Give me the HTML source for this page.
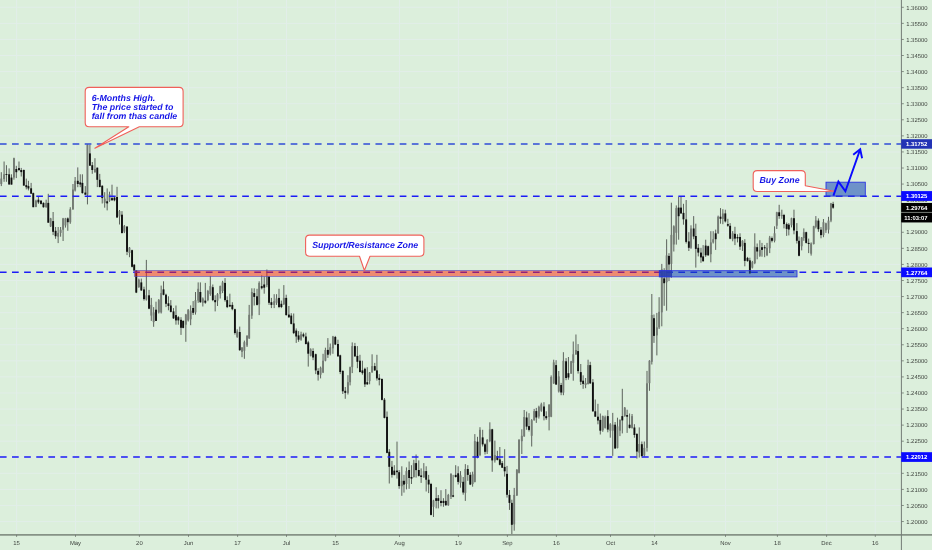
<!DOCTYPE html>
<html lang="en"><head><meta charset="utf-8"><title>GBPUSD chart</title>
<style>html,body{margin:0;padding:0;background:#dcefdc;overflow:hidden}svg{display:block}text{font-family:"Liberation Sans",Arial,sans-serif;text-rendering:geometricPrecision}.pl{font-size:5.9px;fill:#3c413c}.tl{font-size:5.9px;fill:#3c413c;text-anchor:middle}.tg{font-size:5.9px;fill:#fff;font-weight:bold}.co{font-size:8.8px;fill:#1414e6;font-weight:bold;font-style:italic}</style></head><body>
<svg width="932" height="550" viewBox="0 0 932 550">
<rect width="932" height="550" fill="#dcefdc"/>
<g stroke="#e2eee9" stroke-width="1" fill="none">
<line x1="16.6" y1="0" x2="16.6" y2="534.9"/>
<line x1="75.5" y1="0" x2="75.5" y2="534.9"/>
<line x1="139.4" y1="0" x2="139.4" y2="534.9"/>
<line x1="188.5" y1="0" x2="188.5" y2="534.9"/>
<line x1="237.6" y1="0" x2="237.6" y2="534.9"/>
<line x1="286.5" y1="0" x2="286.5" y2="534.9"/>
<line x1="335.6" y1="0" x2="335.6" y2="534.9"/>
<line x1="399.5" y1="0" x2="399.5" y2="534.9"/>
<line x1="458.4" y1="0" x2="458.4" y2="534.9"/>
<line x1="507.4" y1="0" x2="507.4" y2="534.9"/>
<line x1="556.4" y1="0" x2="556.4" y2="534.9"/>
<line x1="610.5" y1="0" x2="610.5" y2="534.9"/>
<line x1="654.6" y1="0" x2="654.6" y2="534.9"/>
<line x1="725.5" y1="0" x2="725.5" y2="534.9"/>
<line x1="777.4" y1="0" x2="777.4" y2="534.9"/>
<line x1="826.6" y1="0" x2="826.6" y2="534.9"/>
<line x1="875.3" y1="0" x2="875.3" y2="534.9"/>
<line x1="0" y1="7.30" x2="901.4" y2="7.30"/>
<line x1="0" y1="23.37" x2="901.4" y2="23.37"/>
<line x1="0" y1="39.44" x2="901.4" y2="39.44"/>
<line x1="0" y1="55.51" x2="901.4" y2="55.51"/>
<line x1="0" y1="71.58" x2="901.4" y2="71.58"/>
<line x1="0" y1="87.65" x2="901.4" y2="87.65"/>
<line x1="0" y1="103.72" x2="901.4" y2="103.72"/>
<line x1="0" y1="119.79" x2="901.4" y2="119.79"/>
<line x1="0" y1="135.86" x2="901.4" y2="135.86"/>
<line x1="0" y1="151.93" x2="901.4" y2="151.93"/>
<line x1="0" y1="168.00" x2="901.4" y2="168.00"/>
<line x1="0" y1="184.07" x2="901.4" y2="184.07"/>
<line x1="0" y1="200.14" x2="901.4" y2="200.14"/>
<line x1="0" y1="216.21" x2="901.4" y2="216.21"/>
<line x1="0" y1="232.28" x2="901.4" y2="232.28"/>
<line x1="0" y1="248.35" x2="901.4" y2="248.35"/>
<line x1="0" y1="264.42" x2="901.4" y2="264.42"/>
<line x1="0" y1="280.49" x2="901.4" y2="280.49"/>
<line x1="0" y1="296.56" x2="901.4" y2="296.56"/>
<line x1="0" y1="312.63" x2="901.4" y2="312.63"/>
<line x1="0" y1="328.70" x2="901.4" y2="328.70"/>
<line x1="0" y1="344.77" x2="901.4" y2="344.77"/>
<line x1="0" y1="360.84" x2="901.4" y2="360.84"/>
<line x1="0" y1="376.91" x2="901.4" y2="376.91"/>
<line x1="0" y1="392.98" x2="901.4" y2="392.98"/>
<line x1="0" y1="409.05" x2="901.4" y2="409.05"/>
<line x1="0" y1="425.12" x2="901.4" y2="425.12"/>
<line x1="0" y1="441.19" x2="901.4" y2="441.19"/>
<line x1="0" y1="457.26" x2="901.4" y2="457.26"/>
<line x1="0" y1="473.33" x2="901.4" y2="473.33"/>
<line x1="0" y1="489.40" x2="901.4" y2="489.40"/>
<line x1="0" y1="505.47" x2="901.4" y2="505.47"/>
<line x1="0" y1="521.54" x2="901.4" y2="521.54"/>
</g>
<g stroke="#5c625c" stroke-width="1" fill="none">
<line x1="1.29" y1="172.2" x2="1.29" y2="186.1"/>
<line x1="4.08" y1="161.5" x2="4.08" y2="181.8"/>
<line x1="6.44" y1="165.2" x2="6.44" y2="181.8"/>
<line x1="9.12" y1="168.4" x2="9.12" y2="184.5"/>
<line x1="11.48" y1="174.3" x2="11.48" y2="184.5"/>
<line x1="13.95" y1="157.7" x2="13.95" y2="179.7"/>
<line x1="16.31" y1="165.8" x2="16.31" y2="178.1"/>
<line x1="18.99" y1="161.5" x2="18.99" y2="171.1"/>
<line x1="21.24" y1="167.9" x2="21.24" y2="176.5"/>
<line x1="23.82" y1="169.5" x2="23.82" y2="185.6"/>
<line x1="26.29" y1="178.6" x2="26.29" y2="189.4"/>
<line x1="28.43" y1="180.8" x2="28.43" y2="190.4"/>
<line x1="31.12" y1="182.9" x2="31.12" y2="193.6"/>
<line x1="33.26" y1="192.6" x2="33.26" y2="207.2"/>
<line x1="35.94" y1="199.7" x2="35.94" y2="207.2"/>
<line x1="38.41" y1="196.4" x2="38.41" y2="203.9"/>
<line x1="40.99" y1="200.2" x2="40.99" y2="204.5"/>
<line x1="43.45" y1="202.3" x2="43.45" y2="207.7"/>
<line x1="46.14" y1="199.7" x2="46.14" y2="207.7"/>
<line x1="48.28" y1="193.8" x2="48.28" y2="222.7"/>
<line x1="50.64" y1="217.9" x2="50.64" y2="227.0"/>
<line x1="53.11" y1="212.0" x2="53.11" y2="235.1"/>
<line x1="55.58" y1="227.0" x2="55.58" y2="238.8"/>
<line x1="58.15" y1="227.0" x2="58.15" y2="243.1"/>
<line x1="60.62" y1="227.0" x2="60.62" y2="236.7"/>
<line x1="63.09" y1="217.9" x2="63.09" y2="241.0"/>
<line x1="65.45" y1="217.9" x2="65.45" y2="227.6"/>
<line x1="67.81" y1="217.4" x2="67.81" y2="230.8"/>
<line x1="70.28" y1="207.2" x2="70.28" y2="223.8"/>
<line x1="72.96" y1="184.0" x2="72.96" y2="209.8"/>
<line x1="75.11" y1="177.0" x2="75.11" y2="191.5"/>
<line x1="77.79" y1="167.4" x2="77.79" y2="187.2"/>
<line x1="80.26" y1="174.3" x2="80.26" y2="187.2"/>
<line x1="82.40" y1="174.3" x2="82.40" y2="193.6"/>
<line x1="85.30" y1="186.1" x2="85.30" y2="194.7"/>
<line x1="87.45" y1="144.3" x2="87.45" y2="204.4"/>
<line x1="89.91" y1="144.8" x2="89.91" y2="165.8"/>
<line x1="92.27" y1="162.0" x2="92.27" y2="173.8"/>
<line x1="94.96" y1="158.2" x2="94.96" y2="172.7"/>
<line x1="97.30" y1="167.5" x2="97.30" y2="187.1"/>
<line x1="99.76" y1="173.9" x2="99.76" y2="187.4"/>
<line x1="102.23" y1="185.2" x2="102.23" y2="203.5"/>
<line x1="104.70" y1="192.2" x2="104.70" y2="207.7"/>
<line x1="107.17" y1="188.4" x2="107.17" y2="210.4"/>
<line x1="109.53" y1="191.7" x2="109.53" y2="201.8"/>
<line x1="112.00" y1="184.7" x2="112.00" y2="200.8"/>
<line x1="114.46" y1="196.5" x2="114.46" y2="201.3"/>
<line x1="117.04" y1="186.8" x2="117.04" y2="217.9"/>
<line x1="119.51" y1="210.0" x2="119.51" y2="224.5"/>
<line x1="121.97" y1="211.1" x2="121.97" y2="233.6"/>
<line x1="124.33" y1="225.0" x2="124.33" y2="233.1"/>
<line x1="127.02" y1="226.1" x2="127.02" y2="255.1"/>
<line x1="129.48" y1="247.0" x2="129.48" y2="257.2"/>
<line x1="132.06" y1="249.7" x2="132.06" y2="267.4"/>
<line x1="134.21" y1="264.2" x2="134.21" y2="271.2"/>
<line x1="136.27" y1="270.0" x2="136.27" y2="293.1"/>
<line x1="138.84" y1="278.6" x2="138.84" y2="287.8"/>
<line x1="141.31" y1="278.6" x2="141.31" y2="291.0"/>
<line x1="143.99" y1="286.7" x2="143.99" y2="300.6"/>
<line x1="146.35" y1="259.9" x2="146.35" y2="300.6"/>
<line x1="149.03" y1="289.9" x2="149.03" y2="309.2"/>
<line x1="151.29" y1="297.9" x2="151.29" y2="320.9"/>
<line x1="153.65" y1="307.1" x2="153.65" y2="326.8"/>
<line x1="156.01" y1="301.7" x2="156.01" y2="320.9"/>
<line x1="158.80" y1="299.0" x2="158.80" y2="313.5"/>
<line x1="161.16" y1="285.6" x2="161.16" y2="313.5"/>
<line x1="163.52" y1="281.3" x2="163.52" y2="295.3"/>
<line x1="165.99" y1="293.7" x2="165.99" y2="307.1"/>
<line x1="168.45" y1="296.3" x2="168.45" y2="310.3"/>
<line x1="170.82" y1="300.1" x2="170.82" y2="312.4"/>
<line x1="173.50" y1="308.1" x2="173.50" y2="318.9"/>
<line x1="175.97" y1="305.5" x2="175.97" y2="324.7"/>
<line x1="178.33" y1="316.1" x2="178.33" y2="324.7"/>
<line x1="181.01" y1="317.2" x2="181.01" y2="334.9"/>
<line x1="183.15" y1="320.4" x2="183.15" y2="328.4"/>
<line x1="185.84" y1="313.9" x2="185.84" y2="341.8"/>
<line x1="188.20" y1="309.1" x2="188.20" y2="321.5"/>
<line x1="190.67" y1="305.4" x2="190.67" y2="325.2"/>
<line x1="193.13" y1="301.1" x2="193.13" y2="315.0"/>
<line x1="195.49" y1="292.0" x2="195.49" y2="314.6"/>
<line x1="198.18" y1="282.4" x2="198.18" y2="302.8"/>
<line x1="200.36" y1="282.4" x2="200.36" y2="302.8"/>
<line x1="202.83" y1="297.4" x2="202.83" y2="306.5"/>
<line x1="205.30" y1="282.9" x2="205.30" y2="303.8"/>
<line x1="207.88" y1="289.9" x2="207.88" y2="301.2"/>
<line x1="210.34" y1="275.9" x2="210.34" y2="295.8"/>
<line x1="212.81" y1="284.5" x2="212.81" y2="301.2"/>
<line x1="215.17" y1="295.3" x2="215.17" y2="311.4"/>
<line x1="217.53" y1="293.1" x2="217.53" y2="306.0"/>
<line x1="220.21" y1="285.6" x2="220.21" y2="298.5"/>
<line x1="222.58" y1="280.8" x2="222.58" y2="293.1"/>
<line x1="225.04" y1="278.1" x2="225.04" y2="301.7"/>
<line x1="227.19" y1="296.3" x2="227.19" y2="308.1"/>
<line x1="229.87" y1="293.7" x2="229.87" y2="307.1"/>
<line x1="232.34" y1="302.2" x2="232.34" y2="310.3"/>
<line x1="234.91" y1="308.7" x2="234.91" y2="334.6"/>
<line x1="237.17" y1="329.3" x2="237.17" y2="337.9"/>
<line x1="239.74" y1="326.6" x2="239.74" y2="350.8"/>
<line x1="242.00" y1="347.0" x2="242.00" y2="357.2"/>
<line x1="244.36" y1="340.6" x2="244.36" y2="358.8"/>
<line x1="247.04" y1="335.2" x2="247.04" y2="347.0"/>
<line x1="249.18" y1="304.9" x2="249.18" y2="338.9"/>
<line x1="251.87" y1="288.3" x2="251.87" y2="318.9"/>
<line x1="254.23" y1="288.3" x2="254.23" y2="305.5"/>
<line x1="257.02" y1="288.8" x2="257.02" y2="305.5"/>
<line x1="259.16" y1="281.3" x2="259.16" y2="315.1"/>
<line x1="261.74" y1="275.4" x2="261.74" y2="289.4"/>
<line x1="264.21" y1="276.5" x2="264.21" y2="293.7"/>
<line x1="266.89" y1="269.5" x2="266.89" y2="287.2"/>
<line x1="269.03" y1="275.9" x2="269.03" y2="304.9"/>
<line x1="271.39" y1="297.9" x2="271.39" y2="308.1"/>
<line x1="274.18" y1="294.2" x2="274.18" y2="308.1"/>
<line x1="276.55" y1="294.2" x2="276.55" y2="304.9"/>
<line x1="279.01" y1="288.8" x2="279.01" y2="308.1"/>
<line x1="281.37" y1="300.6" x2="281.37" y2="308.1"/>
<line x1="283.84" y1="285.1" x2="283.84" y2="304.9"/>
<line x1="286.20" y1="294.7" x2="286.20" y2="315.6"/>
<line x1="288.88" y1="306.0" x2="288.88" y2="317.8"/>
<line x1="291.24" y1="313.2" x2="291.24" y2="324.4"/>
<line x1="293.71" y1="313.5" x2="293.71" y2="334.1"/>
<line x1="296.22" y1="328.4" x2="296.22" y2="342.9"/>
<line x1="298.58" y1="331.1" x2="298.58" y2="341.8"/>
<line x1="301.05" y1="331.7" x2="301.05" y2="340.8"/>
<line x1="303.41" y1="332.7" x2="303.41" y2="337.6"/>
<line x1="305.88" y1="332.7" x2="305.88" y2="344.5"/>
<line x1="308.24" y1="340.8" x2="308.24" y2="366.6"/>
<line x1="310.71" y1="348.3" x2="310.71" y2="356.4"/>
<line x1="313.07" y1="348.3" x2="313.07" y2="360.2"/>
<line x1="315.75" y1="353.6" x2="315.75" y2="374.1"/>
<line x1="318.11" y1="368.2" x2="318.11" y2="380.6"/>
<line x1="320.58" y1="366.6" x2="320.58" y2="378.4"/>
<line x1="323.05" y1="353.8" x2="323.05" y2="373.1"/>
<line x1="325.41" y1="347.7" x2="325.41" y2="361.3"/>
<line x1="327.88" y1="338.1" x2="327.88" y2="357.9"/>
<line x1="330.24" y1="343.5" x2="330.24" y2="355.4"/>
<line x1="332.92" y1="335.9" x2="332.92" y2="353.8"/>
<line x1="335.28" y1="335.9" x2="335.28" y2="345.1"/>
<line x1="337.96" y1="339.7" x2="337.96" y2="356.9"/>
<line x1="340.21" y1="354.7" x2="340.21" y2="374.1"/>
<line x1="342.79" y1="370.4" x2="342.79" y2="394.0"/>
<line x1="345.26" y1="387.0" x2="345.26" y2="398.8"/>
<line x1="347.94" y1="375.2" x2="347.94" y2="394.5"/>
<line x1="350.09" y1="366.6" x2="350.09" y2="385.4"/>
<line x1="352.23" y1="342.4" x2="352.23" y2="373.1"/>
<line x1="354.91" y1="342.9" x2="354.91" y2="357.0"/>
<line x1="357.38" y1="346.1" x2="357.38" y2="368.2"/>
<line x1="359.96" y1="354.8" x2="359.96" y2="372.5"/>
<line x1="362.42" y1="360.7" x2="362.42" y2="374.7"/>
<line x1="364.89" y1="367.7" x2="364.89" y2="387.0"/>
<line x1="367.25" y1="367.2" x2="367.25" y2="384.9"/>
<line x1="369.61" y1="372.0" x2="369.61" y2="384.3"/>
<line x1="372.08" y1="354.3" x2="372.08" y2="372.5"/>
<line x1="374.76" y1="362.9" x2="374.76" y2="370.9"/>
<line x1="376.91" y1="354.8" x2="376.91" y2="380.6"/>
<line x1="379.27" y1="374.1" x2="379.27" y2="385.4"/>
<line x1="381.95" y1="378.4" x2="381.95" y2="400.4"/>
<line x1="384.44" y1="398.0" x2="384.44" y2="418.4"/>
<line x1="387.02" y1="411.5" x2="387.02" y2="453.3"/>
<line x1="389.27" y1="449.1" x2="389.27" y2="483.5"/>
<line x1="391.95" y1="460.9" x2="391.95" y2="477.6"/>
<line x1="394.31" y1="465.2" x2="394.31" y2="475.4"/>
<line x1="397.00" y1="441.6" x2="397.00" y2="478.6"/>
<line x1="399.14" y1="470.0" x2="399.14" y2="488.8"/>
<line x1="401.82" y1="466.3" x2="401.82" y2="495.8"/>
<line x1="403.97" y1="474.9" x2="403.97" y2="492.6"/>
<line x1="406.44" y1="467.4" x2="406.44" y2="489.4"/>
<line x1="409.12" y1="461.5" x2="409.12" y2="488.8"/>
<line x1="411.48" y1="465.2" x2="411.48" y2="484.0"/>
<line x1="413.84" y1="459.8" x2="413.84" y2="477.6"/>
<line x1="416.09" y1="454.5" x2="416.09" y2="477.6"/>
<line x1="418.78" y1="460.4" x2="418.78" y2="476.5"/>
<line x1="421.14" y1="468.4" x2="421.14" y2="482.9"/>
<line x1="423.82" y1="463.1" x2="423.82" y2="477.6"/>
<line x1="426.18" y1="466.3" x2="426.18" y2="491.5"/>
<line x1="428.65" y1="474.9" x2="428.65" y2="493.1"/>
<line x1="431.01" y1="482.9" x2="431.01" y2="515.4"/>
<line x1="433.48" y1="499.8" x2="433.48" y2="517.0"/>
<line x1="436.16" y1="487.2" x2="436.16" y2="508.4"/>
<line x1="438.30" y1="495.0" x2="438.30" y2="508.4"/>
<line x1="440.99" y1="490.2" x2="440.99" y2="506.3"/>
<line x1="443.45" y1="498.2" x2="443.45" y2="506.8"/>
<line x1="445.82" y1="489.1" x2="445.82" y2="505.8"/>
<line x1="448.28" y1="493.9" x2="448.28" y2="505.8"/>
<line x1="450.97" y1="473.3" x2="450.97" y2="499.0"/>
<line x1="453.11" y1="474.9" x2="453.11" y2="497.2"/>
<line x1="455.69" y1="465.2" x2="455.69" y2="477.6"/>
<line x1="458.15" y1="466.3" x2="458.15" y2="484.5"/>
<line x1="460.52" y1="471.1" x2="460.52" y2="487.7"/>
<line x1="463.20" y1="477.0" x2="463.20" y2="494.7"/>
<line x1="465.34" y1="464.1" x2="465.34" y2="500.9"/>
<line x1="467.81" y1="465.2" x2="467.81" y2="480.8"/>
<line x1="470.28" y1="472.2" x2="470.28" y2="485.1"/>
<line x1="472.64" y1="471.7" x2="472.64" y2="486.7"/>
<line x1="474.83" y1="434.1" x2="474.83" y2="482.4"/>
<line x1="477.51" y1="436.8" x2="477.51" y2="458.3"/>
<line x1="479.98" y1="427.2" x2="479.98" y2="456.1"/>
<line x1="482.66" y1="429.8" x2="482.66" y2="446.5"/>
<line x1="485.02" y1="443.3" x2="485.02" y2="454.5"/>
<line x1="487.17" y1="439.0" x2="487.17" y2="454.0"/>
<line x1="489.85" y1="422.3" x2="489.85" y2="442.2"/>
<line x1="492.21" y1="428.8" x2="492.21" y2="471.8"/>
<line x1="494.89" y1="440.6" x2="494.89" y2="462.6"/>
<line x1="497.36" y1="450.8" x2="497.36" y2="460.4"/>
<line x1="499.83" y1="447.0" x2="499.83" y2="465.4"/>
<line x1="502.19" y1="461.0" x2="502.19" y2="468.0"/>
<line x1="504.66" y1="449.2" x2="504.66" y2="476.6"/>
<line x1="507.02" y1="465.9" x2="507.02" y2="497.6"/>
<line x1="509.48" y1="490.0" x2="509.48" y2="509.9"/>
<line x1="511.85" y1="499.7" x2="511.85" y2="535.0"/>
<line x1="514.21" y1="487.9" x2="514.21" y2="530.7"/>
<line x1="516.89" y1="469.1" x2="516.89" y2="495.9"/>
<line x1="519.03" y1="439.0" x2="519.03" y2="473.4"/>
<line x1="521.82" y1="429.3" x2="521.82" y2="454.0"/>
<line x1="524.18" y1="410.0" x2="524.18" y2="436.8"/>
<line x1="526.65" y1="411.6" x2="526.65" y2="429.8"/>
<line x1="529.01" y1="413.2" x2="529.01" y2="431.5"/>
<line x1="531.70" y1="419.1" x2="531.70" y2="446.5"/>
<line x1="534.16" y1="408.9" x2="534.16" y2="420.7"/>
<line x1="536.31" y1="407.9" x2="536.31" y2="422.9"/>
<line x1="538.88" y1="405.7" x2="538.88" y2="418.6"/>
<line x1="541.29" y1="402.7" x2="541.29" y2="411.8"/>
<line x1="543.97" y1="402.2" x2="543.97" y2="420.4"/>
<line x1="546.22" y1="411.3" x2="546.22" y2="419.9"/>
<line x1="549.08" y1="404.3" x2="549.08" y2="430.4"/>
<line x1="551.16" y1="375.4" x2="551.16" y2="417.2"/>
<line x1="553.73" y1="359.7" x2="553.73" y2="383.9"/>
<line x1="556.09" y1="360.2" x2="556.09" y2="385.0"/>
<line x1="558.78" y1="371.0" x2="558.78" y2="392.5"/>
<line x1="561.14" y1="382.9" x2="561.14" y2="395.2"/>
<line x1="563.39" y1="352.2" x2="563.39" y2="395.2"/>
<line x1="566.07" y1="358.1" x2="566.07" y2="380.2"/>
<line x1="568.43" y1="357.0" x2="568.43" y2="379.7"/>
<line x1="571.12" y1="360.8" x2="571.12" y2="373.8"/>
<line x1="573.26" y1="341.5" x2="573.26" y2="380.7"/>
<line x1="575.94" y1="334.5" x2="575.94" y2="354.9"/>
<line x1="578.09" y1="344.1" x2="578.09" y2="373.6"/>
<line x1="580.77" y1="364.0" x2="580.77" y2="385.0"/>
<line x1="583.13" y1="375.3" x2="583.13" y2="388.8"/>
<line x1="585.60" y1="378.0" x2="585.60" y2="388.2"/>
<line x1="588.07" y1="359.7" x2="588.07" y2="384.5"/>
<line x1="590.21" y1="361.8" x2="590.21" y2="383.9"/>
<line x1="592.90" y1="379.1" x2="592.90" y2="411.8"/>
<line x1="595.26" y1="399.5" x2="595.26" y2="416.7"/>
<line x1="597.94" y1="403.8" x2="597.94" y2="424.3"/>
<line x1="600.30" y1="413.5" x2="600.30" y2="434.5"/>
<line x1="602.77" y1="415.6" x2="602.77" y2="431.8"/>
<line x1="605.13" y1="415.6" x2="605.13" y2="428.6"/>
<line x1="607.81" y1="410.2" x2="607.81" y2="432.3"/>
<line x1="610.28" y1="423.1" x2="610.28" y2="437.7"/>
<line x1="612.75" y1="412.9" x2="612.75" y2="455.9"/>
<line x1="615.11" y1="422.0" x2="615.11" y2="449.0"/>
<line x1="617.47" y1="417.7" x2="617.47" y2="448.4"/>
<line x1="619.94" y1="419.4" x2="619.94" y2="436.1"/>
<line x1="622.30" y1="388.8" x2="622.30" y2="433.4"/>
<line x1="624.76" y1="407.0" x2="624.76" y2="416.7"/>
<line x1="627.12" y1="409.7" x2="627.12" y2="432.9"/>
<line x1="629.59" y1="413.5" x2="629.59" y2="428.6"/>
<line x1="632.06" y1="414.0" x2="632.06" y2="428.6"/>
<line x1="634.42" y1="424.2" x2="634.42" y2="437.7"/>
<line x1="636.89" y1="433.3" x2="636.89" y2="458.6"/>
<line x1="639.25" y1="427.4" x2="639.25" y2="457.6"/>
<line x1="641.85" y1="441.5" x2="641.85" y2="457.6"/>
<line x1="644.31" y1="441.5" x2="644.31" y2="456.5"/>
<line x1="647.00" y1="370.9" x2="647.00" y2="451.6"/>
<line x1="649.46" y1="360.2" x2="649.46" y2="390.8"/>
<line x1="651.82" y1="294.0" x2="651.82" y2="364.5"/>
<line x1="653.97" y1="314.5" x2="653.97" y2="342.9"/>
<line x1="656.87" y1="312.9" x2="656.87" y2="355.4"/>
<line x1="659.12" y1="297.2" x2="659.12" y2="329.0"/>
<line x1="661.80" y1="263.9" x2="661.80" y2="326.3"/>
<line x1="664.16" y1="268.2" x2="664.16" y2="305.8"/>
<line x1="666.63" y1="239.3" x2="666.63" y2="310.7"/>
<line x1="668.99" y1="253.2" x2="668.99" y2="281.1"/>
<line x1="671.35" y1="202.7" x2="671.35" y2="277.8"/>
<line x1="673.82" y1="225.3" x2="673.82" y2="251.5"/>
<line x1="676.29" y1="205.4" x2="676.29" y2="244.6"/>
<line x1="678.65" y1="196.8" x2="678.65" y2="239.7"/>
<line x1="681.01" y1="196.8" x2="681.01" y2="213.5"/>
<line x1="683.48" y1="203.8" x2="683.48" y2="224.7"/>
<line x1="686.16" y1="200.0" x2="686.16" y2="243.5"/>
<line x1="688.84" y1="232.2" x2="688.84" y2="251.0"/>
<line x1="690.99" y1="225.3" x2="690.99" y2="248.9"/>
<line x1="693.67" y1="216.1" x2="693.67" y2="239.2"/>
<line x1="695.82" y1="223.7" x2="695.82" y2="267.6"/>
<line x1="698.28" y1="244.0" x2="698.28" y2="256.4"/>
<line x1="700.97" y1="247.8" x2="700.97" y2="262.8"/>
<line x1="703.11" y1="245.1" x2="703.11" y2="261.7"/>
<line x1="705.69" y1="239.7" x2="705.69" y2="256.9"/>
<line x1="708.15" y1="245.6" x2="708.15" y2="255.8"/>
<line x1="710.84" y1="231.2" x2="710.84" y2="262.3"/>
<line x1="713.20" y1="231.2" x2="713.20" y2="243.5"/>
<line x1="715.67" y1="229.6" x2="715.67" y2="249.9"/>
<line x1="718.13" y1="215.6" x2="718.13" y2="233.8"/>
<line x1="720.49" y1="208.1" x2="720.49" y2="223.7"/>
<line x1="722.85" y1="209.2" x2="722.85" y2="224.2"/>
<line x1="725.30" y1="209.7" x2="725.30" y2="222.5"/>
<line x1="727.87" y1="218.8" x2="727.87" y2="226.8"/>
<line x1="730.12" y1="223.1" x2="730.12" y2="239.2"/>
<line x1="732.70" y1="231.1" x2="732.70" y2="241.3"/>
<line x1="734.95" y1="226.8" x2="734.95" y2="245.1"/>
<line x1="737.53" y1="234.3" x2="737.53" y2="242.4"/>
<line x1="740.00" y1="233.3" x2="740.00" y2="249.9"/>
<line x1="742.46" y1="240.2" x2="742.46" y2="251.0"/>
<line x1="744.82" y1="239.2" x2="744.82" y2="266.3"/>
<line x1="747.51" y1="256.9" x2="747.51" y2="261.7"/>
<line x1="749.87" y1="257.7" x2="749.87" y2="273.8"/>
<line x1="752.33" y1="260.9" x2="752.33" y2="268.5"/>
<line x1="754.80" y1="233.3" x2="754.80" y2="264.2"/>
<line x1="757.16" y1="243.5" x2="757.16" y2="259.3"/>
<line x1="759.85" y1="240.2" x2="759.85" y2="256.9"/>
<line x1="761.99" y1="242.9" x2="761.99" y2="256.7"/>
<line x1="764.67" y1="245.1" x2="764.67" y2="257.2"/>
<line x1="767.03" y1="242.9" x2="767.03" y2="256.1"/>
<line x1="769.72" y1="235.9" x2="769.72" y2="253.1"/>
<line x1="771.97" y1="236.5" x2="771.97" y2="242.4"/>
<line x1="774.55" y1="226.3" x2="774.55" y2="242.4"/>
<line x1="776.80" y1="211.8" x2="776.80" y2="229.0"/>
<line x1="779.16" y1="204.8" x2="779.16" y2="218.8"/>
<line x1="781.84" y1="209.7" x2="781.84" y2="218.8"/>
<line x1="783.99" y1="213.9" x2="783.99" y2="228.4"/>
<line x1="786.67" y1="222.5" x2="786.67" y2="235.9"/>
<line x1="788.82" y1="223.1" x2="788.82" y2="235.4"/>
<line x1="791.50" y1="217.7" x2="791.50" y2="227.4"/>
<line x1="793.97" y1="209.7" x2="793.97" y2="234.3"/>
<line x1="796.86" y1="223.1" x2="796.86" y2="243.5"/>
<line x1="799.01" y1="236.5" x2="799.01" y2="256.3"/>
<line x1="801.69" y1="237.0" x2="801.69" y2="250.4"/>
<line x1="803.84" y1="228.4" x2="803.84" y2="240.8"/>
<line x1="806.20" y1="231.7" x2="806.20" y2="243.5"/>
<line x1="808.67" y1="238.6" x2="808.67" y2="253.1"/>
<line x1="811.13" y1="242.4" x2="811.13" y2="255.6"/>
<line x1="813.71" y1="225.8" x2="813.71" y2="244.5"/>
<line x1="815.85" y1="216.1" x2="815.85" y2="228.4"/>
<line x1="818.41" y1="218.4" x2="818.41" y2="231.8"/>
<line x1="820.99" y1="227.0" x2="820.99" y2="238.3"/>
<line x1="823.45" y1="219.0" x2="823.45" y2="237.2"/>
<line x1="825.92" y1="222.7" x2="825.92" y2="232.9"/>
<line x1="828.50" y1="216.8" x2="828.50" y2="233.5"/>
<line x1="830.97" y1="202.9" x2="830.97" y2="222.2"/>
<line x1="833.11" y1="201.8" x2="833.11" y2="208.8"/>
</g>
<g fill="#747b74" stroke="none">
<rect x="0.34" y="178.6" width="1.9" height="5.4"/>
<rect x="3.13" y="174.3" width="1.9" height="4.8"/>
<rect x="13.00" y="158.2" width="1.9" height="19.3"/>
<rect x="34.99" y="200.7" width="1.9" height="6.2"/>
<rect x="45.19" y="202.9" width="1.9" height="4.3"/>
<rect x="49.69" y="218.4" width="1.9" height="8.0"/>
<rect x="57.20" y="232.9" width="1.9" height="3.8"/>
<rect x="59.67" y="229.7" width="1.9" height="3.2"/>
<rect x="62.14" y="218.4" width="1.9" height="11.3"/>
<rect x="64.50" y="218.4" width="1.9" height="7.0"/>
<rect x="69.33" y="209.3" width="1.9" height="12.9"/>
<rect x="72.01" y="189.5" width="1.9" height="19.8"/>
<rect x="74.16" y="180.8" width="1.9" height="9.7"/>
<rect x="86.50" y="144.8" width="1.9" height="49.9"/>
<rect x="94.01" y="169.0" width="1.9" height="3.2"/>
<rect x="103.75" y="198.6" width="1.9" height="4.3"/>
<rect x="108.58" y="194.3" width="1.9" height="6.4"/>
<rect x="118.56" y="211.1" width="1.9" height="5.4"/>
<rect x="123.38" y="226.1" width="1.9" height="5.4"/>
<rect x="128.53" y="247.6" width="1.9" height="5.4"/>
<rect x="137.89" y="279.7" width="1.9" height="7.5"/>
<rect x="145.40" y="295.3" width="1.9" height="4.3"/>
<rect x="150.34" y="304.9" width="1.9" height="10.7"/>
<rect x="152.70" y="312.4" width="1.9" height="9.7"/>
<rect x="157.85" y="300.1" width="1.9" height="12.3"/>
<rect x="160.21" y="293.1" width="1.9" height="19.3"/>
<rect x="184.89" y="314.5" width="1.9" height="10.2"/>
<rect x="187.25" y="309.7" width="1.9" height="10.7"/>
<rect x="189.72" y="310.7" width="1.9" height="8.6"/>
<rect x="194.54" y="300.1" width="1.9" height="12.3"/>
<rect x="197.23" y="288.8" width="1.9" height="11.8"/>
<rect x="201.88" y="298.5" width="1.9" height="4.3"/>
<rect x="206.93" y="291.0" width="1.9" height="9.1"/>
<rect x="209.39" y="286.1" width="1.9" height="8.0"/>
<rect x="216.58" y="294.2" width="1.9" height="6.4"/>
<rect x="219.26" y="286.1" width="1.9" height="8.0"/>
<rect x="221.63" y="282.4" width="1.9" height="8.6"/>
<rect x="236.22" y="331.5" width="1.9" height="5.4"/>
<rect x="241.05" y="347.6" width="1.9" height="4.3"/>
<rect x="243.41" y="342.2" width="1.9" height="8.6"/>
<rect x="246.09" y="335.8" width="1.9" height="9.7"/>
<rect x="248.23" y="314.8" width="1.9" height="23.6"/>
<rect x="250.92" y="292.0" width="1.9" height="23.6"/>
<rect x="258.21" y="282.9" width="1.9" height="21.5"/>
<rect x="265.94" y="276.5" width="1.9" height="8.6"/>
<rect x="273.23" y="301.2" width="1.9" height="3.8"/>
<rect x="275.60" y="298.5" width="1.9" height="4.3"/>
<rect x="282.89" y="297.9" width="1.9" height="6.4"/>
<rect x="300.10" y="334.3" width="1.9" height="5.4"/>
<rect x="309.76" y="349.4" width="1.9" height="6.4"/>
<rect x="319.63" y="367.7" width="1.9" height="7.0"/>
<rect x="322.10" y="360.7" width="1.9" height="11.8"/>
<rect x="324.46" y="350.0" width="1.9" height="10.7"/>
<rect x="329.29" y="347.2" width="1.9" height="6.4"/>
<rect x="331.97" y="336.5" width="1.9" height="11.8"/>
<rect x="346.99" y="382.2" width="1.9" height="10.7"/>
<rect x="349.14" y="367.2" width="1.9" height="15.0"/>
<rect x="351.28" y="346.1" width="1.9" height="21.0"/>
<rect x="368.66" y="372.5" width="1.9" height="8.6"/>
<rect x="371.13" y="366.1" width="1.9" height="6.4"/>
<rect x="400.87" y="480.8" width="1.9" height="5.4"/>
<rect x="405.49" y="471.1" width="1.9" height="12.9"/>
<rect x="412.89" y="463.1" width="1.9" height="13.9"/>
<rect x="422.87" y="471.1" width="1.9" height="6.4"/>
<rect x="432.53" y="500.4" width="1.9" height="6.4"/>
<rect x="447.33" y="495.0" width="1.9" height="10.2"/>
<rect x="450.02" y="473.8" width="1.9" height="22.9"/>
<rect x="459.57" y="475.4" width="1.9" height="7.5"/>
<rect x="464.39" y="469.0" width="1.9" height="23.9"/>
<rect x="471.69" y="474.3" width="1.9" height="9.7"/>
<rect x="473.88" y="441.1" width="1.9" height="40.8"/>
<rect x="479.03" y="429.8" width="1.9" height="25.2"/>
<rect x="486.22" y="440.0" width="1.9" height="11.8"/>
<rect x="488.90" y="429.3" width="1.9" height="11.8"/>
<rect x="493.94" y="455.1" width="1.9" height="5.4"/>
<rect x="513.26" y="494.9" width="1.9" height="29.4"/>
<rect x="515.94" y="469.7" width="1.9" height="25.8"/>
<rect x="518.08" y="440.0" width="1.9" height="32.8"/>
<rect x="520.87" y="435.8" width="1.9" height="5.4"/>
<rect x="523.23" y="417.0" width="1.9" height="19.3"/>
<rect x="530.75" y="420.2" width="1.9" height="15.6"/>
<rect x="533.21" y="411.1" width="1.9" height="9.1"/>
<rect x="537.93" y="406.8" width="1.9" height="9.7"/>
<rect x="540.34" y="404.3" width="1.9" height="6.4"/>
<rect x="548.13" y="404.6" width="1.9" height="12.3"/>
<rect x="550.21" y="377.0" width="1.9" height="39.7"/>
<rect x="552.78" y="362.4" width="1.9" height="21.0"/>
<rect x="557.83" y="376.4" width="1.9" height="15.0"/>
<rect x="562.44" y="360.8" width="1.9" height="31.8"/>
<rect x="570.17" y="361.3" width="1.9" height="12.3"/>
<rect x="572.31" y="354.3" width="1.9" height="8.6"/>
<rect x="574.99" y="350.0" width="1.9" height="4.3"/>
<rect x="584.65" y="382.9" width="1.9" height="2.1"/>
<rect x="587.12" y="365.1" width="1.9" height="18.9"/>
<rect x="601.82" y="416.1" width="1.9" height="14.1"/>
<rect x="604.18" y="417.2" width="1.9" height="10.7"/>
<rect x="609.33" y="424.3" width="1.9" height="6.4"/>
<rect x="611.80" y="424.7" width="1.9" height="6.0"/>
<rect x="616.52" y="426.4" width="1.9" height="21.5"/>
<rect x="618.99" y="419.9" width="1.9" height="10.8"/>
<rect x="623.81" y="407.6" width="1.9" height="8.6"/>
<rect x="631.11" y="416.1" width="1.9" height="11.8"/>
<rect x="638.30" y="444.0" width="1.9" height="8.6"/>
<rect x="643.36" y="447.9" width="1.9" height="7.5"/>
<rect x="646.05" y="383.3" width="1.9" height="64.6"/>
<rect x="648.51" y="360.7" width="1.9" height="22.5"/>
<rect x="650.87" y="315.0" width="1.9" height="46.8"/>
<rect x="655.92" y="327.4" width="1.9" height="8.0"/>
<rect x="658.17" y="311.8" width="1.9" height="15.6"/>
<rect x="660.85" y="269.3" width="1.9" height="43.0"/>
<rect x="665.68" y="255.4" width="1.9" height="26.8"/>
<rect x="670.40" y="234.9" width="1.9" height="29.0"/>
<rect x="672.87" y="226.3" width="1.9" height="18.2"/>
<rect x="675.34" y="208.1" width="1.9" height="24.7"/>
<rect x="690.04" y="228.5" width="1.9" height="19.3"/>
<rect x="709.89" y="242.4" width="1.9" height="11.8"/>
<rect x="712.25" y="239.2" width="1.9" height="3.2"/>
<rect x="717.18" y="216.7" width="1.9" height="16.6"/>
<rect x="721.90" y="213.5" width="1.9" height="5.4"/>
<rect x="731.75" y="233.3" width="1.9" height="5.9"/>
<rect x="741.51" y="240.8" width="1.9" height="5.4"/>
<rect x="751.38" y="262.2" width="1.9" height="5.4"/>
<rect x="753.85" y="246.7" width="1.9" height="16.4"/>
<rect x="758.90" y="249.9" width="1.9" height="5.9"/>
<rect x="766.08" y="247.7" width="1.9" height="7.5"/>
<rect x="768.77" y="237.6" width="1.9" height="10.7"/>
<rect x="773.60" y="233.3" width="1.9" height="7.5"/>
<rect x="775.85" y="212.3" width="1.9" height="13.4"/>
<rect x="780.89" y="215.0" width="1.9" height="1.1"/>
<rect x="790.55" y="218.2" width="1.9" height="7.0"/>
<rect x="800.74" y="237.6" width="1.9" height="8.6"/>
<rect x="802.89" y="232.2" width="1.9" height="5.9"/>
<rect x="810.18" y="243.5" width="1.9" height="10.2"/>
<rect x="812.76" y="226.3" width="1.9" height="17.7"/>
<rect x="814.90" y="220.4" width="1.9" height="6.4"/>
<rect x="822.50" y="222.2" width="1.9" height="12.9"/>
<rect x="824.97" y="223.3" width="1.9" height="7.0"/>
<rect x="827.55" y="220.6" width="1.9" height="9.1"/>
<rect x="830.02" y="203.4" width="1.9" height="17.2"/>
</g>
<g fill="#101010" stroke="none">
<rect x="5.49" y="174.1" width="1.9" height="0.9"/>
<rect x="8.17" y="174.3" width="1.9" height="10.2"/>
<rect x="10.53" y="177.6" width="1.9" height="7.0"/>
<rect x="15.36" y="169.0" width="1.9" height="3.2"/>
<rect x="18.04" y="168.1" width="1.9" height="1.9"/>
<rect x="20.29" y="170.0" width="1.9" height="2.1"/>
<rect x="22.87" y="170.0" width="1.9" height="15.6"/>
<rect x="25.34" y="185.1" width="1.9" height="2.1"/>
<rect x="27.48" y="186.1" width="1.9" height="2.4"/>
<rect x="30.17" y="188.3" width="1.9" height="5.4"/>
<rect x="32.31" y="193.1" width="1.9" height="14.1"/>
<rect x="37.46" y="199.7" width="1.9" height="2.7"/>
<rect x="40.04" y="200.7" width="1.9" height="3.2"/>
<rect x="42.50" y="202.9" width="1.9" height="4.3"/>
<rect x="47.33" y="202.9" width="1.9" height="19.8"/>
<rect x="52.16" y="221.1" width="1.9" height="10.7"/>
<rect x="54.63" y="230.8" width="1.9" height="5.4"/>
<rect x="66.86" y="218.4" width="1.9" height="3.8"/>
<rect x="76.84" y="180.8" width="1.9" height="3.2"/>
<rect x="79.31" y="182.4" width="1.9" height="2.1"/>
<rect x="81.45" y="182.9" width="1.9" height="10.2"/>
<rect x="84.35" y="192.6" width="1.9" height="2.1"/>
<rect x="88.96" y="153.4" width="1.9" height="12.3"/>
<rect x="91.32" y="165.2" width="1.9" height="4.8"/>
<rect x="96.35" y="167.7" width="1.9" height="12.1"/>
<rect x="98.81" y="179.8" width="1.9" height="7.2"/>
<rect x="101.28" y="185.8" width="1.9" height="12.3"/>
<rect x="106.22" y="201.3" width="1.9" height="2.1"/>
<rect x="111.05" y="198.1" width="1.9" height="2.1"/>
<rect x="113.51" y="197.6" width="1.9" height="2.7"/>
<rect x="116.09" y="197.0" width="1.9" height="20.5"/>
<rect x="121.02" y="214.7" width="1.9" height="18.3"/>
<rect x="126.07" y="226.6" width="1.9" height="25.2"/>
<rect x="131.11" y="250.2" width="1.9" height="16.6"/>
<rect x="133.26" y="264.7" width="1.9" height="5.9"/>
<rect x="135.32" y="270.6" width="1.9" height="22.0"/>
<rect x="140.36" y="282.4" width="1.9" height="8.0"/>
<rect x="143.04" y="289.4" width="1.9" height="9.7"/>
<rect x="148.08" y="295.3" width="1.9" height="13.4"/>
<rect x="155.06" y="309.7" width="1.9" height="11.2"/>
<rect x="162.57" y="289.4" width="1.9" height="5.4"/>
<rect x="165.04" y="294.7" width="1.9" height="9.1"/>
<rect x="167.50" y="303.3" width="1.9" height="2.7"/>
<rect x="169.87" y="305.5" width="1.9" height="6.4"/>
<rect x="172.55" y="311.4" width="1.9" height="7.0"/>
<rect x="175.02" y="315.1" width="1.9" height="5.3"/>
<rect x="177.38" y="317.2" width="1.9" height="3.2"/>
<rect x="180.06" y="319.8" width="1.9" height="8.0"/>
<rect x="182.20" y="320.9" width="1.9" height="7.0"/>
<rect x="192.18" y="308.0" width="1.9" height="4.8"/>
<rect x="199.41" y="292.0" width="1.9" height="10.2"/>
<rect x="204.35" y="300.6" width="1.9" height="2.1"/>
<rect x="211.86" y="287.2" width="1.9" height="12.9"/>
<rect x="214.22" y="300.1" width="1.9" height="2.1"/>
<rect x="224.09" y="282.9" width="1.9" height="17.2"/>
<rect x="226.24" y="300.1" width="1.9" height="7.0"/>
<rect x="228.92" y="304.9" width="1.9" height="1.6"/>
<rect x="231.39" y="304.9" width="1.9" height="4.3"/>
<rect x="233.96" y="309.2" width="1.9" height="23.8"/>
<rect x="238.79" y="332.0" width="1.9" height="18.2"/>
<rect x="253.28" y="293.1" width="1.9" height="3.8"/>
<rect x="256.07" y="296.3" width="1.9" height="8.6"/>
<rect x="260.79" y="286.1" width="1.9" height="2.1"/>
<rect x="263.26" y="284.5" width="1.9" height="3.2"/>
<rect x="268.08" y="276.5" width="1.9" height="26.3"/>
<rect x="270.44" y="302.2" width="1.9" height="2.7"/>
<rect x="278.06" y="297.9" width="1.9" height="9.1"/>
<rect x="280.42" y="303.8" width="1.9" height="3.2"/>
<rect x="285.25" y="297.9" width="1.9" height="17.2"/>
<rect x="287.93" y="314.6" width="1.9" height="2.7"/>
<rect x="290.29" y="315.6" width="1.9" height="8.3"/>
<rect x="292.76" y="323.4" width="1.9" height="9.7"/>
<rect x="295.27" y="330.6" width="1.9" height="5.9"/>
<rect x="297.63" y="335.4" width="1.9" height="4.3"/>
<rect x="302.46" y="334.3" width="1.9" height="2.1"/>
<rect x="304.93" y="336.5" width="1.9" height="7.5"/>
<rect x="307.29" y="342.4" width="1.9" height="11.3"/>
<rect x="312.12" y="351.0" width="1.9" height="6.5"/>
<rect x="314.80" y="354.2" width="1.9" height="16.2"/>
<rect x="317.16" y="370.9" width="1.9" height="3.8"/>
<rect x="326.93" y="349.9" width="1.9" height="4.8"/>
<rect x="334.33" y="337.0" width="1.9" height="7.5"/>
<rect x="337.01" y="344.0" width="1.9" height="12.3"/>
<rect x="339.26" y="355.3" width="1.9" height="16.7"/>
<rect x="341.84" y="370.9" width="1.9" height="20.4"/>
<rect x="344.31" y="390.8" width="1.9" height="2.1"/>
<rect x="353.96" y="346.1" width="1.9" height="10.2"/>
<rect x="356.43" y="355.9" width="1.9" height="5.9"/>
<rect x="359.01" y="360.7" width="1.9" height="11.3"/>
<rect x="361.47" y="370.4" width="1.9" height="2.7"/>
<rect x="363.94" y="368.8" width="1.9" height="15.6"/>
<rect x="366.30" y="382.2" width="1.9" height="2.1"/>
<rect x="373.81" y="366.1" width="1.9" height="4.3"/>
<rect x="375.96" y="370.4" width="1.9" height="8.0"/>
<rect x="378.32" y="377.9" width="1.9" height="2.1"/>
<rect x="381.00" y="379.0" width="1.9" height="20.9"/>
<rect x="383.49" y="399.7" width="1.9" height="18.2"/>
<rect x="386.07" y="416.8" width="1.9" height="36.1"/>
<rect x="388.32" y="451.8" width="1.9" height="15.0"/>
<rect x="391.00" y="466.8" width="1.9" height="8.0"/>
<rect x="393.36" y="470.6" width="1.9" height="4.3"/>
<rect x="396.05" y="470.6" width="1.9" height="1.6"/>
<rect x="398.19" y="472.2" width="1.9" height="13.9"/>
<rect x="403.02" y="480.8" width="1.9" height="3.8"/>
<rect x="408.17" y="470.0" width="1.9" height="8.0"/>
<rect x="410.53" y="477.0" width="1.9" height="1.6"/>
<rect x="415.14" y="463.1" width="1.9" height="7.0"/>
<rect x="417.83" y="470.0" width="1.9" height="5.9"/>
<rect x="420.19" y="475.4" width="1.9" height="1.6"/>
<rect x="425.23" y="471.1" width="1.9" height="8.6"/>
<rect x="427.70" y="479.7" width="1.9" height="4.8"/>
<rect x="430.06" y="484.0" width="1.9" height="30.9"/>
<rect x="435.21" y="498.2" width="1.9" height="2.7"/>
<rect x="437.35" y="498.2" width="1.9" height="2.7"/>
<rect x="440.04" y="500.9" width="1.9" height="2.1"/>
<rect x="442.50" y="500.9" width="1.9" height="2.1"/>
<rect x="444.87" y="500.9" width="1.9" height="4.3"/>
<rect x="452.16" y="495.3" width="1.9" height="1.4"/>
<rect x="454.74" y="474.9" width="1.9" height="2.1"/>
<rect x="457.20" y="473.3" width="1.9" height="8.6"/>
<rect x="462.25" y="481.8" width="1.9" height="10.7"/>
<rect x="466.86" y="469.0" width="1.9" height="5.9"/>
<rect x="469.33" y="474.9" width="1.9" height="9.7"/>
<rect x="476.56" y="441.7" width="1.9" height="15.6"/>
<rect x="481.71" y="437.4" width="1.9" height="7.0"/>
<rect x="484.07" y="444.3" width="1.9" height="7.5"/>
<rect x="491.26" y="429.3" width="1.9" height="31.1"/>
<rect x="496.41" y="456.1" width="1.9" height="3.8"/>
<rect x="498.88" y="459.4" width="1.9" height="5.4"/>
<rect x="501.24" y="463.1" width="1.9" height="4.6"/>
<rect x="503.71" y="466.9" width="1.9" height="4.4"/>
<rect x="506.07" y="473.9" width="1.9" height="20.9"/>
<rect x="508.53" y="494.9" width="1.9" height="8.0"/>
<rect x="510.90" y="502.9" width="1.9" height="21.9"/>
<rect x="525.70" y="417.5" width="1.9" height="9.1"/>
<rect x="528.06" y="426.1" width="1.9" height="3.8"/>
<rect x="535.36" y="411.1" width="1.9" height="6.4"/>
<rect x="543.02" y="406.5" width="1.9" height="9.7"/>
<rect x="545.27" y="416.1" width="1.9" height="2.1"/>
<rect x="555.14" y="365.1" width="1.9" height="19.4"/>
<rect x="560.19" y="385.0" width="1.9" height="7.5"/>
<rect x="565.12" y="361.3" width="1.9" height="16.7"/>
<rect x="567.48" y="373.2" width="1.9" height="4.3"/>
<rect x="577.14" y="351.1" width="1.9" height="20.0"/>
<rect x="579.82" y="372.1" width="1.9" height="9.7"/>
<rect x="582.18" y="380.7" width="1.9" height="3.2"/>
<rect x="589.26" y="365.1" width="1.9" height="18.3"/>
<rect x="591.95" y="382.3" width="1.9" height="29.0"/>
<rect x="594.31" y="411.3" width="1.9" height="5.4"/>
<rect x="596.99" y="416.7" width="1.9" height="3.8"/>
<rect x="599.35" y="419.9" width="1.9" height="10.8"/>
<rect x="606.86" y="416.1" width="1.9" height="13.5"/>
<rect x="614.16" y="424.7" width="1.9" height="23.7"/>
<rect x="621.35" y="416.1" width="1.9" height="4.3"/>
<rect x="626.17" y="415.1" width="1.9" height="1.6"/>
<rect x="628.64" y="424.7" width="1.9" height="3.2"/>
<rect x="633.47" y="427.5" width="1.9" height="7.5"/>
<rect x="635.94" y="433.9" width="1.9" height="17.7"/>
<rect x="640.90" y="444.2" width="1.9" height="11.8"/>
<rect x="653.02" y="318.2" width="1.9" height="17.7"/>
<rect x="663.21" y="278.4" width="1.9" height="4.8"/>
<rect x="668.04" y="255.9" width="1.9" height="8.6"/>
<rect x="677.70" y="207.6" width="1.9" height="8.6"/>
<rect x="680.06" y="207.6" width="1.9" height="5.9"/>
<rect x="682.53" y="212.9" width="1.9" height="6.4"/>
<rect x="685.21" y="219.4" width="1.9" height="22.5"/>
<rect x="687.89" y="241.4" width="1.9" height="6.4"/>
<rect x="692.72" y="228.5" width="1.9" height="8.0"/>
<rect x="694.87" y="236.0" width="1.9" height="12.9"/>
<rect x="697.33" y="247.8" width="1.9" height="4.8"/>
<rect x="700.02" y="252.6" width="1.9" height="4.8"/>
<rect x="702.16" y="256.4" width="1.9" height="4.8"/>
<rect x="704.74" y="245.6" width="1.9" height="9.7"/>
<rect x="707.20" y="246.2" width="1.9" height="9.1"/>
<rect x="714.72" y="233.3" width="1.9" height="5.9"/>
<rect x="719.54" y="216.7" width="1.9" height="2.1"/>
<rect x="724.35" y="213.4" width="1.9" height="8.0"/>
<rect x="726.92" y="224.1" width="1.9" height="1.6"/>
<rect x="729.17" y="225.8" width="1.9" height="12.9"/>
<rect x="734.00" y="233.8" width="1.9" height="4.8"/>
<rect x="736.58" y="237.0" width="1.9" height="1.4"/>
<rect x="739.05" y="237.0" width="1.9" height="9.7"/>
<rect x="743.87" y="242.9" width="1.9" height="18.0"/>
<rect x="746.56" y="257.9" width="1.9" height="3.2"/>
<rect x="748.92" y="260.4" width="1.9" height="12.9"/>
<rect x="756.21" y="247.2" width="1.9" height="4.3"/>
<rect x="761.04" y="247.2" width="1.9" height="2.7"/>
<rect x="763.72" y="247.2" width="1.9" height="1.1"/>
<rect x="771.02" y="238.1" width="1.9" height="2.7"/>
<rect x="778.21" y="212.3" width="1.9" height="3.8"/>
<rect x="783.04" y="215.0" width="1.9" height="9.1"/>
<rect x="785.72" y="224.1" width="1.9" height="4.8"/>
<rect x="787.87" y="224.7" width="1.9" height="4.8"/>
<rect x="793.02" y="218.2" width="1.9" height="12.3"/>
<rect x="795.91" y="231.1" width="1.9" height="9.7"/>
<rect x="798.06" y="240.8" width="1.9" height="15.0"/>
<rect x="805.25" y="232.2" width="1.9" height="10.7"/>
<rect x="807.72" y="242.9" width="1.9" height="1.1"/>
<rect x="817.46" y="220.6" width="1.9" height="8.6"/>
<rect x="820.04" y="229.7" width="1.9" height="5.4"/>
<rect x="832.16" y="203.9" width="1.9" height="3.8"/>
</g>
<line x1="0" y1="144.0" x2="901.4" y2="144.0" stroke="#2f4cd6" stroke-width="1.4" stroke-dasharray="6.7 5.415" stroke-dashoffset="0.1"/>
<line x1="0" y1="196.2" x2="901.4" y2="196.2" stroke="#1c1cf6" stroke-width="1.4" stroke-dasharray="6.7 5.415" stroke-dashoffset="0.1"/>
<line x1="0" y1="272.3" x2="901.4" y2="272.3" stroke="#1c1cf6" stroke-width="1.4" stroke-dasharray="6.7 5.415" stroke-dashoffset="0.1"/>
<line x1="0" y1="457.0" x2="901.4" y2="457.0" stroke="#1c1cf6" stroke-width="1.4" stroke-dasharray="6.7 5.415" stroke-dashoffset="0.1"/>
<rect x="134.3" y="270.4" width="537.4" height="6.1" fill="#ff2506" fill-opacity="0.5" stroke="#4a4ad0" stroke-opacity="0.8" stroke-width="0.7"/>
<rect x="659.3" y="270.7" width="12.4" height="6.2" fill="#1438c8" fill-opacity="0.65"/>
<rect x="659.3" y="270.7" width="137.7" height="6.2" fill="#1445b8" fill-opacity="0.55" stroke="#2a35e0" stroke-width="0.9"/>
<rect x="826" y="182.2" width="39.3" height="13.9" fill="#1445b8" fill-opacity="0.55" stroke="#2a35e0" stroke-width="0.9"/>
<path d="M89.2 87.4 H179.1 Q183.1 87.4 183.1 91.4 V122.8 Q183.1 126.8 179.1 126.8 H139.3 L94.9 148.2 L128.8 126.8 H89.2 Q85.2 126.8 85.2 122.8 V91.4 Q85.2 87.4 89.2 87.4 Z" fill="#fff" stroke="#f0605a" stroke-width="1.1" stroke-linejoin="round"/>
<text class="co" x="91.7" y="100.9">6-Months High.</text>
<text class="co" x="91.7" y="109.8">The price started to</text>
<text class="co" x="91.7" y="118.7">fall from thas candle</text>
<path d="M309.6 235.1 H419.9 Q423.9 235.1 423.9 239.1 V252.2 Q423.9 256.2 419.9 256.2 H370.0 L364.4 270.5 L359.5 256.2 H309.6 Q305.6 256.2 305.6 252.2 V239.1 Q305.6 235.1 309.6 235.1 Z" fill="#fff" stroke="#f0605a" stroke-width="1.1" stroke-linejoin="round"/>
<text class="co" x="312.2" y="248.4">Support/Resistance Zone</text>
<path d="M757.2 170.6 H801.3 Q805.3 170.6 805.3 174.6 V185.8 L834.5 191.2 L800.0 191.5 H757.2 Q753.2 191.5 753.2 187.5 V174.6 Q753.2 170.6 757.2 170.6 Z" fill="#fff" stroke="#f0605a" stroke-width="1.1" stroke-linejoin="round"/>
<text class="co" x="759.5" y="182.9">Buy Zone</text>
<path d="M833.4 195.6 L838.4 181.6 L845.4 191.3 L860.1 149.6" fill="none" stroke="#0a0aff" stroke-width="1.9" stroke-linejoin="miter"/>
<path d="M853.2 154.8 L860.2 149.2 L862.1 158.3" fill="none" stroke="#0a0aff" stroke-width="1.9" stroke-linejoin="miter"/>
<line x1="0" y1="534.9" x2="932" y2="534.9" stroke="#869286" stroke-width="1.8"/>
<line x1="901.4" y1="0" x2="901.4" y2="550" stroke="#747c76" stroke-width="1"/>
<g stroke="#6b736b" stroke-width="0.8" fill="none">
<line x1="901.4" y1="7.30" x2="903.8" y2="7.30"/>
<line x1="901.4" y1="23.37" x2="903.8" y2="23.37"/>
<line x1="901.4" y1="39.44" x2="903.8" y2="39.44"/>
<line x1="901.4" y1="55.51" x2="903.8" y2="55.51"/>
<line x1="901.4" y1="71.58" x2="903.8" y2="71.58"/>
<line x1="901.4" y1="87.65" x2="903.8" y2="87.65"/>
<line x1="901.4" y1="103.72" x2="903.8" y2="103.72"/>
<line x1="901.4" y1="119.79" x2="903.8" y2="119.79"/>
<line x1="901.4" y1="135.86" x2="903.8" y2="135.86"/>
<line x1="901.4" y1="151.93" x2="903.8" y2="151.93"/>
<line x1="901.4" y1="168.00" x2="903.8" y2="168.00"/>
<line x1="901.4" y1="184.07" x2="903.8" y2="184.07"/>
<line x1="901.4" y1="200.14" x2="903.8" y2="200.14"/>
<line x1="901.4" y1="216.21" x2="903.8" y2="216.21"/>
<line x1="901.4" y1="232.28" x2="903.8" y2="232.28"/>
<line x1="901.4" y1="248.35" x2="903.8" y2="248.35"/>
<line x1="901.4" y1="264.42" x2="903.8" y2="264.42"/>
<line x1="901.4" y1="280.49" x2="903.8" y2="280.49"/>
<line x1="901.4" y1="296.56" x2="903.8" y2="296.56"/>
<line x1="901.4" y1="312.63" x2="903.8" y2="312.63"/>
<line x1="901.4" y1="328.70" x2="903.8" y2="328.70"/>
<line x1="901.4" y1="344.77" x2="903.8" y2="344.77"/>
<line x1="901.4" y1="360.84" x2="903.8" y2="360.84"/>
<line x1="901.4" y1="376.91" x2="903.8" y2="376.91"/>
<line x1="901.4" y1="392.98" x2="903.8" y2="392.98"/>
<line x1="901.4" y1="409.05" x2="903.8" y2="409.05"/>
<line x1="901.4" y1="425.12" x2="903.8" y2="425.12"/>
<line x1="901.4" y1="441.19" x2="903.8" y2="441.19"/>
<line x1="901.4" y1="457.26" x2="903.8" y2="457.26"/>
<line x1="901.4" y1="473.33" x2="903.8" y2="473.33"/>
<line x1="901.4" y1="489.40" x2="903.8" y2="489.40"/>
<line x1="901.4" y1="505.47" x2="903.8" y2="505.47"/>
<line x1="901.4" y1="521.54" x2="903.8" y2="521.54"/>
<line x1="16.6" y1="534.9" x2="16.6" y2="536.9"/>
<line x1="75.5" y1="534.9" x2="75.5" y2="536.9"/>
<line x1="139.4" y1="534.9" x2="139.4" y2="536.9"/>
<line x1="188.5" y1="534.9" x2="188.5" y2="536.9"/>
<line x1="237.6" y1="534.9" x2="237.6" y2="536.9"/>
<line x1="286.5" y1="534.9" x2="286.5" y2="536.9"/>
<line x1="335.6" y1="534.9" x2="335.6" y2="536.9"/>
<line x1="399.5" y1="534.9" x2="399.5" y2="536.9"/>
<line x1="458.4" y1="534.9" x2="458.4" y2="536.9"/>
<line x1="507.4" y1="534.9" x2="507.4" y2="536.9"/>
<line x1="556.4" y1="534.9" x2="556.4" y2="536.9"/>
<line x1="610.5" y1="534.9" x2="610.5" y2="536.9"/>
<line x1="654.6" y1="534.9" x2="654.6" y2="536.9"/>
<line x1="725.5" y1="534.9" x2="725.5" y2="536.9"/>
<line x1="777.4" y1="534.9" x2="777.4" y2="536.9"/>
<line x1="826.6" y1="534.9" x2="826.6" y2="536.9"/>
<line x1="875.3" y1="534.9" x2="875.3" y2="536.9"/>
</g>
<g class="pl">
<text x="906.2" y="9.50">1.36000</text>
<text x="906.2" y="25.57">1.35500</text>
<text x="906.2" y="41.64">1.35000</text>
<text x="906.2" y="57.71">1.34500</text>
<text x="906.2" y="73.78">1.34000</text>
<text x="906.2" y="89.85">1.33500</text>
<text x="906.2" y="105.92">1.33000</text>
<text x="906.2" y="121.99">1.32500</text>
<text x="906.2" y="138.06">1.32000</text>
<text x="906.2" y="154.13">1.31500</text>
<text x="906.2" y="170.20">1.31000</text>
<text x="906.2" y="186.27">1.30500</text>
<text x="906.2" y="202.34">1.30000</text>
<text x="906.2" y="218.41">1.29500</text>
<text x="906.2" y="234.48">1.29000</text>
<text x="906.2" y="250.55">1.28500</text>
<text x="906.2" y="266.62">1.28000</text>
<text x="906.2" y="282.69">1.27500</text>
<text x="906.2" y="298.76">1.27000</text>
<text x="906.2" y="314.83">1.26500</text>
<text x="906.2" y="330.90">1.26000</text>
<text x="906.2" y="346.97">1.25500</text>
<text x="906.2" y="363.04">1.25000</text>
<text x="906.2" y="379.11">1.24500</text>
<text x="906.2" y="395.18">1.24000</text>
<text x="906.2" y="411.25">1.23500</text>
<text x="906.2" y="427.32">1.23000</text>
<text x="906.2" y="443.39">1.22500</text>
<text x="906.2" y="459.46">1.22000</text>
<text x="906.2" y="475.53">1.21500</text>
<text x="906.2" y="491.60">1.21000</text>
<text x="906.2" y="507.67">1.20500</text>
<text x="906.2" y="523.74">1.20000</text>
</g>
<g class="tl">
<text x="16.6" y="544.5">15</text>
<text x="75.5" y="544.5">May</text>
<text x="139.4" y="544.5">20</text>
<text x="188.5" y="544.5">Jun</text>
<text x="237.6" y="544.5">17</text>
<text x="286.5" y="544.5">Jul</text>
<text x="335.6" y="544.5">15</text>
<text x="399.5" y="544.5">Aug</text>
<text x="458.4" y="544.5">19</text>
<text x="507.4" y="544.5">Sep</text>
<text x="556.4" y="544.5">16</text>
<text x="610.5" y="544.5">Oct</text>
<text x="654.6" y="544.5">14</text>
<text x="725.5" y="544.5">Nov</text>
<text x="777.4" y="544.5">18</text>
<text x="826.6" y="544.5">Dec</text>
<text x="875.3" y="544.5">16</text>
</g>
<rect x="901.2" y="139.2" width="30.8" height="9.5" fill="#2233b5"/>
<text class="tg" x="906.1" y="146.10">1.31752</text>
<rect x="901.2" y="191.1" width="30.8" height="9.8" fill="#0a0aff"/>
<text class="tg" x="906.1" y="198.15">1.30125</text>
<rect x="901.2" y="267.5" width="30.8" height="9.7" fill="#0a0aff"/>
<text class="tg" x="906.1" y="274.50">1.27764</text>
<rect x="901.2" y="452.2" width="30.8" height="9.7" fill="#0a0aff"/>
<text class="tg" x="906.1" y="459.20">1.22012</text>
<rect x="901.2" y="202.9" width="30.8" height="19.5" fill="#6a6f6a"/>
<rect x="901.2" y="203.0" width="30.8" height="8.9" fill="#000"/>
<text class="tg" x="906.1" y="209.60">1.29764</text>
<rect x="901.2" y="213.0" width="30.8" height="9.3" fill="#000"/>
<text class="tg" x="904.3" y="219.80">11:03:07</text>
</svg></body></html>
